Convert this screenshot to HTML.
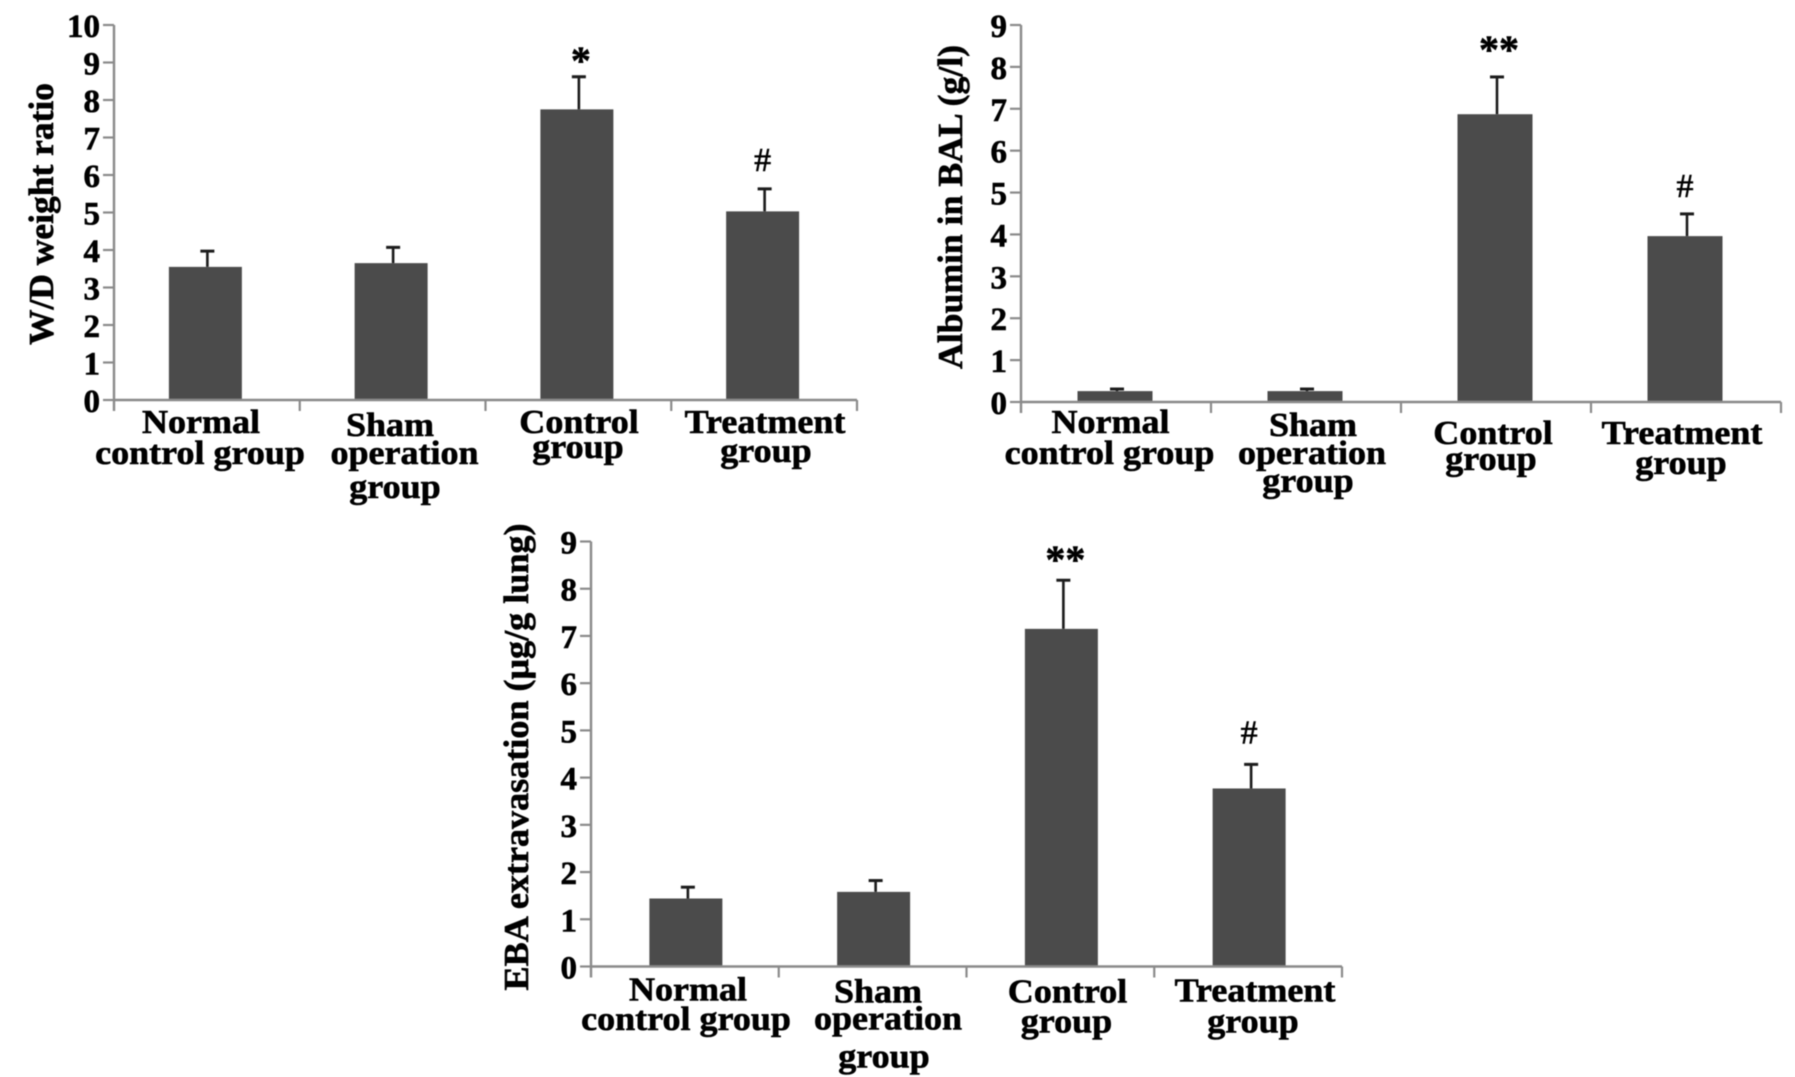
<!DOCTYPE html>
<html>
<head>
<meta charset="utf-8">
<title>Lung injury bar charts</title>
<style>
html,body{margin:0;padding:0;background:#fff;width:1795px;height:1077px;overflow:hidden}
svg{display:block}
text{font-family:"Liberation Serif","DejaVu Serif",serif;font-weight:bold;fill:#000;stroke:#000;stroke-width:.6px}
</style>
</head>
<body>
<svg id="figure" xmlns="http://www.w3.org/2000/svg" width="1795" height="1077" viewBox="0 0 1795 1077">
<defs><filter id="soft" x="-2%" y="-2%" width="104%" height="104%"><feGaussianBlur stdDeviation="0.55"/></filter></defs>
<g id="root" filter="url(#soft)"></g>
</svg>
<script>
const categoryLines = [["Normal","control group"],["Sham","operation","group"],["Control","group"],["Treatment","group"]];

const wdTicks = [0,1,2,3,4,5,6,7,8,9,10];
const wdValues = [3.55,3.65,7.75,5.03];
const wdErrors = [0.42,0.42,0.87,0.6];
const wdMarks = ["","","*","#"];

const albuminTicks = [0,1,2,3,4,5,6,7,8,9];
const albuminValues = [0.26,0.26,6.87,3.96];
const albuminErrors = [0.05,0.05,0.89,0.53];
const albuminMarks = ["","","**","#"];

const ebaTicks = [0,1,2,3,4,5,6,7,8,9];
const ebaValues = [1.44,1.58,7.15,3.77];
const ebaErrors = [0.24,0.24,1.03,0.51];
const ebaMarks = ["","","**","#"];

const root = document.getElementById('root');
const NS = 'http://www.w3.org/2000/svg';

function shape(tag, parent, props){
  const el = document.createElementNS(NS, tag);
  for (const k in props) el.setAttribute(k, props[k]);
  parent.appendChild(el);
  return el;
}

function drawPanel(name, title, ticks, values, errors, marks, g){
  const panel = shape('g', root, {});
  
  

  const maxTick = ticks[ticks.length - 1];
  const yScale = v => g.bottom - (v / maxTick) * (g.bottom - g.top);
  const band = (g.right - g.left) / values.length;
  const xScale = i => g.left + (i + 0.5) * band + g.barShift;

  /* bars and error bars */
  values.forEach((v, i) => {
    const bar = shape('rect', panel, {x: xScale(i) - g.barWidth / 2, y: yScale(v), width: g.barWidth, height: g.bottom - yScale(v), fill: '#4c4c4c'});
    
    

    const top = yScale(v + errors[i]);
    const ex = xScale(i) + 2;
    const stem = shape('line', panel, {x1: ex, x2: ex, y1: yScale(v), y2: top, stroke: '#1c1c1c', 'stroke-width': 2.6});
    
    
    const cap = shape('line', panel, {x1: ex - 7, x2: ex + 7, y1: top, y2: top, stroke: '#1c1c1c', 'stroke-width': 3});
    
    

    if (marks[i]) {
      const isHash = marks[i] === '#';
      const mark = shape('text', panel, {x: ex + (isHash ? -2 : 2), y: top - (isHash ? g.hashGap : g.starGap), 'text-anchor': 'middle', 'font-size': isHash ? 34 : 40});
      mark.textContent = marks[i];
      mark.style.fontWeight = isHash ? 'normal' : 'bold';
      
      
    }
  });

  /* axes */
  const yAxis = shape('line', panel, {x1: g.left, x2: g.left, y1: g.top, y2: g.bottom + 11, stroke: '#8a8a8a', 'stroke-width': 2.4});
  
  
  const xAxis = shape('line', panel, {x1: g.left, x2: g.right, y1: g.bottom, y2: g.bottom, stroke: '#8a8a8a', 'stroke-width': 2.4});
  
  

  ticks.forEach(t => {
    const tm = shape('line', panel, {x1: g.left - 11, x2: g.left, y1: yScale(t), y2: yScale(t), stroke: '#8a8a8a', 'stroke-width': 2.2});
    
    
    const lab = shape('text', panel, {'text-anchor': 'end', 'font-size': 33, transform: 'translate(' + (g.left - 14) + ' ' + (yScale(t) + 12) + ')'});
    lab.textContent = String(t);
    
    
  });

  for (let i = 1; i <= values.length; i++) {
    const tm = shape('line', panel, {x1: g.left + i * band, x2: g.left + i * band, y1: g.bottom, y2: g.bottom + 11, stroke: '#8a8a8a', 'stroke-width': 2.2});
    
    
  }

  /* category labels */
  categoryLines.forEach((lines, i) => {
    lines.forEach((line, j) => {
      const where = g.labels[i][j];
      const lab = shape('text', panel, {'text-anchor': 'middle', 'font-size': 34, transform: 'translate(' + where[0] + ' ' + where[1] + ') scale(1.06 1)'});
      lab.textContent = line;
      
      
    });
  });

  /* y title */
  const yTitle = shape('text', panel, {'text-anchor': 'middle', 'font-size': 35, textLength: g.titleLength, lengthAdjust: 'spacingAndGlyphs', transform: 'translate(' + g.titleX + ' ' + g.titleY + ') rotate(-90)'});
  yTitle.textContent = title;
  
  
}

drawPanel('wd-ratio', 'W/D weight ratio', wdTicks, wdValues, wdErrors, wdMarks, {
  left: 114, right: 857, top: 25, bottom: 400, barWidth: 73, barShift: -1.5,
  starGap: 3, hashGap: 18, titleX: 53, titleY: 214, titleLength: 262,
  labels: [[[201,433],[200,464]],[[390,436],[404.5,464],[395,498]],[[579,433],[578,458]],[[765,433],[766,462]]]
});

drawPanel('albumin', 'Albumin in BAL (g/l)', albuminTicks, albuminValues, albuminErrors, albuminMarks, {
  left: 1021, right: 1781, top: 25, bottom: 402, barWidth: 75, barShift: -1,
  starGap: 14, hashGap: 17, titleX: 962, titleY: 207, titleLength: 324,
  labels: [[[1110.5,433],[1109.5,464]],[[1313,436],[1312,464],[1308,492]],[[1493,444],[1491,470]],[[1682,444],[1681,474]]]
});

drawPanel('eba', 'EBA extravasation (μg/g lung)', ebaTicks, ebaValues, ebaErrors, ebaMarks, {
  left: 591, right: 1342, top: 541.5, bottom: 966.5, barWidth: 73, barShift: 1,
  starGap: 7, hashGap: 21, titleX: 528, titleY: 757, titleLength: 467,
  labels: [[[688,1000.5],[686,1030]],[[878,1002.5],[888,1029.5],[884,1067.5]],[[1067.5,1002.5],[1066.5,1032.5]],[[1255,1001.5],[1253,1032.5]]]
});
</script>
</body>
</html>
